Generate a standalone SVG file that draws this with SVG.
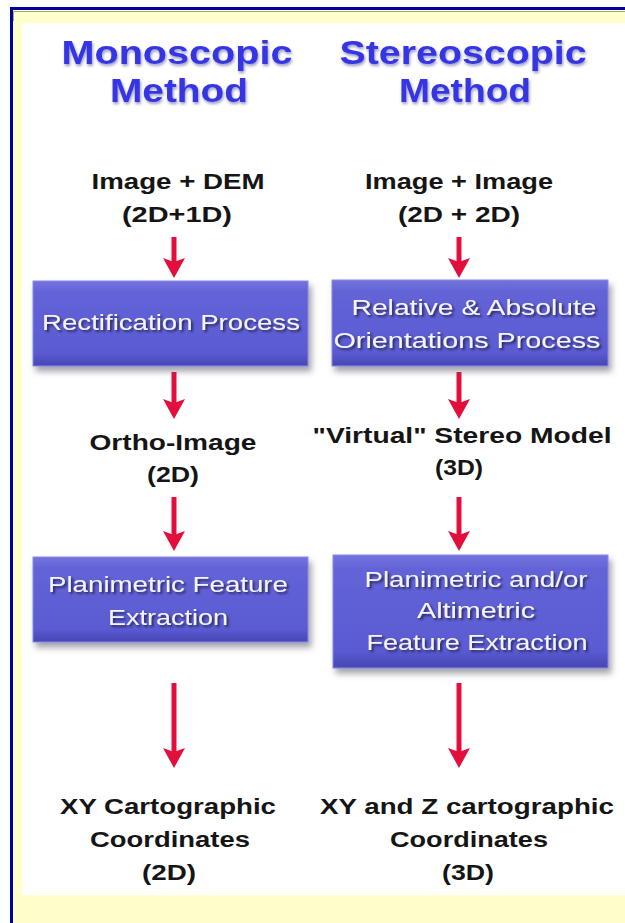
<svg xmlns="http://www.w3.org/2000/svg" width="625" height="923" viewBox="0 0 625 923">
  <defs>
    <linearGradient id="boxGrad" x1="0" y1="0" x2="0" y2="1">
      <stop offset="0" stop-color="#7474DE"/>
      <stop offset="0.12" stop-color="#6464D8"/>
      <stop offset="0.85" stop-color="#5A5AD2"/>
      <stop offset="1" stop-color="#4646B4"/>
    </linearGradient>
    <filter id="boxShadow" x="-10%" y="-10%" width="125%" height="135%">
      <feGaussianBlur in="SourceAlpha" stdDeviation="3"/>
      <feOffset dx="3" dy="5" result="b"/>
      <feFlood flood-color="#555566" flood-opacity="0.55"/>
      <feComposite in2="b" operator="in"/>
      <feMerge><feMergeNode/><feMergeNode in="SourceGraphic"/></feMerge>
    </filter>
    <filter id="textShadow" x="-5%" y="-20%" width="110%" height="150%">
      <feGaussianBlur in="SourceAlpha" stdDeviation="0.8"/>
      <feOffset dx="1.5" dy="1.5" result="b"/>
      <feFlood flood-color="#22224A" flood-opacity="0.85"/>
      <feComposite in2="b" operator="in"/>
      <feMerge><feMergeNode/><feMergeNode in="SourceGraphic"/></feMerge>
    </filter>
    <filter id="titleGlow" x="-5%" y="-20%" width="110%" height="150%">
      <feGaussianBlur in="SourceGraphic" stdDeviation="0.5" result="s"/>
      <feGaussianBlur in="SourceAlpha" stdDeviation="1.6"/>
      <feOffset dx="1" dy="1.5" result="b"/>
      <feFlood flood-color="#6666AA" flood-opacity="0.7"/>
      <feComposite in2="b" operator="in"/>
      <feMerge><feMergeNode/><feMergeNode in="s"/></feMerge>
    </filter>
    <marker id="arrow" markerUnits="userSpaceOnUse" viewBox="0 0 20 22" refX="4" refY="11" markerWidth="20" markerHeight="22" orient="auto">
      <path d="M0,0 L20,11 L0,22 L4,11 Z" fill="#E40E3C"/>
    </marker>
    <style>
      .title { font-family: "Liberation Sans", Arial, sans-serif; font-weight: bold; font-size: 33px; fill: #3434E4; text-anchor: middle; }
      .label { font-family: "Liberation Sans", Arial, sans-serif; font-weight: bold; font-size: 22px; fill: #151515; text-anchor: middle; }
      .boxtext { font-family: "Liberation Sans", Arial, sans-serif; font-size: 22px; fill: #F4F4FF; text-anchor: middle; }
      .box { fill: url(#boxGrad); stroke: #8A8AE6; stroke-width: 1; }
      .conn { stroke: #E40E3C; stroke-width: 5; fill: none; }
    </style>
  </defs>

  <!-- frame -->
  <rect x="0" y="0" width="625" height="923" fill="#FFFFFF"/>
  <rect x="10" y="7" width="615" height="916" fill="#00009C"/>
  <rect x="13" y="10" width="612" height="913" fill="#FFFFCC"/>
  <path d="M13.5,21 L13.5,11.5 L625,11.5" stroke="#A8A880" stroke-width="1" fill="none"/>
  <rect x="22" y="23" width="603" height="872" fill="#FFFFFF"/>

  <!-- titles -->
  <g id="title-mono" filter="url(#titleGlow)">
    <text class="title" x="177" y="63.5" textLength="231" lengthAdjust="spacingAndGlyphs">Monoscopic</text>
    <text class="title" x="179" y="101.5" textLength="138" lengthAdjust="spacingAndGlyphs">Method</text>
  </g>
  <g id="title-stereo" filter="url(#titleGlow)">
    <text class="title" x="463" y="63.5" textLength="247" lengthAdjust="spacingAndGlyphs">Stereoscopic</text>
    <text class="title" x="465" y="101.5" textLength="132" lengthAdjust="spacingAndGlyphs">Method</text>
  </g>

  <!-- connectors -->
  <g id="connectors">
    <line class="conn" x1="174" y1="237" x2="174" y2="262" marker-end="url(#arrow)"/>
    <line class="conn" x1="459" y1="237" x2="459" y2="262" marker-end="url(#arrow)"/>
    <line class="conn" x1="174" y1="372" x2="174" y2="403" marker-end="url(#arrow)"/>
    <line class="conn" x1="459" y1="372" x2="459" y2="403" marker-end="url(#arrow)"/>
    <line class="conn" x1="174" y1="497" x2="174" y2="535" marker-end="url(#arrow)"/>
    <line class="conn" x1="459" y1="497" x2="459" y2="535" marker-end="url(#arrow)"/>
    <line class="conn" x1="174" y1="683" x2="174" y2="752" marker-end="url(#arrow)"/>
    <line class="conn" x1="459" y1="683" x2="459" y2="752" marker-end="url(#arrow)"/>
  </g>

  <!-- left column -->
  <g id="input-mono">
    <text class="label" x="178" y="189" textLength="173" lengthAdjust="spacingAndGlyphs">Image + DEM</text>
    <text class="label" x="177" y="222" textLength="110" lengthAdjust="spacingAndGlyphs">(2D+1D)</text>
  </g>
  <g id="rectification">
    <rect class="box" x="33" y="281" width="275" height="85" filter="url(#boxShadow)"/>
    <text class="boxtext" x="171" y="330" textLength="258" lengthAdjust="spacingAndGlyphs" filter="url(#textShadow)">Rectification Process</text>
  </g>
  <g id="ortho-image">
    <text class="label" x="173" y="450" textLength="167" lengthAdjust="spacingAndGlyphs">Ortho-Image</text>
    <text class="label" x="173" y="482" textLength="52" lengthAdjust="spacingAndGlyphs">(2D)</text>
  </g>
  <g id="planimetric">
    <rect class="box" x="33" y="557" width="275" height="85" filter="url(#boxShadow)"/>
    <text class="boxtext" x="168" y="592" textLength="240" lengthAdjust="spacingAndGlyphs" filter="url(#textShadow)">Planimetric Feature</text>
    <text class="boxtext" x="168" y="625" textLength="120" lengthAdjust="spacingAndGlyphs" filter="url(#textShadow)">Extraction</text>
  </g>
  <g id="output-mono">
    <text class="label" x="168" y="814" textLength="216" lengthAdjust="spacingAndGlyphs">XY Cartographic</text>
    <text class="label" x="170" y="847" textLength="160" lengthAdjust="spacingAndGlyphs">Coordinates</text>
    <text class="label" x="169" y="880" textLength="54" lengthAdjust="spacingAndGlyphs">(2D)</text>
  </g>

  <!-- right column -->
  <g id="input-stereo">
    <text class="label" x="459" y="189" textLength="188" lengthAdjust="spacingAndGlyphs">Image + Image</text>
    <text class="label" x="459" y="222" textLength="122" lengthAdjust="spacingAndGlyphs">(2D + 2D)</text>
  </g>
  <g id="orientation">
    <rect class="box" x="332" y="280" width="276" height="86" filter="url(#boxShadow)"/>
    <text class="boxtext" x="474" y="315" textLength="245" lengthAdjust="spacingAndGlyphs" filter="url(#textShadow)">Relative &amp; Absolute</text>
    <text class="boxtext" x="467" y="348" textLength="267" lengthAdjust="spacingAndGlyphs" filter="url(#textShadow)">Orientations Process</text>
  </g>
  <g id="stereo-model">
    <text class="label" x="462" y="443" textLength="299" lengthAdjust="spacingAndGlyphs">"Virtual" Stereo Model</text>
    <text class="label" x="459" y="475" textLength="48" lengthAdjust="spacingAndGlyphs">(3D)</text>
  </g>
  <g id="altimetric">
    <rect class="box" x="333" y="555" width="275" height="113" filter="url(#boxShadow)"/>
    <text class="boxtext" x="476" y="587" textLength="223" lengthAdjust="spacingAndGlyphs" filter="url(#textShadow)">Planimetric and/or</text>
    <text class="boxtext" x="476" y="618" textLength="118" lengthAdjust="spacingAndGlyphs" filter="url(#textShadow)">Altimetric</text>
    <text class="boxtext" x="477" y="650" textLength="221" lengthAdjust="spacingAndGlyphs" filter="url(#textShadow)">Feature Extraction</text>
  </g>
  <g id="output-stereo">
    <text class="label" x="467" y="814" textLength="294" lengthAdjust="spacingAndGlyphs">XY and Z cartographic</text>
    <text class="label" x="469" y="847" textLength="158" lengthAdjust="spacingAndGlyphs">Coordinates</text>
    <text class="label" x="468" y="880" textLength="52" lengthAdjust="spacingAndGlyphs">(3D)</text>
  </g>
</svg>
